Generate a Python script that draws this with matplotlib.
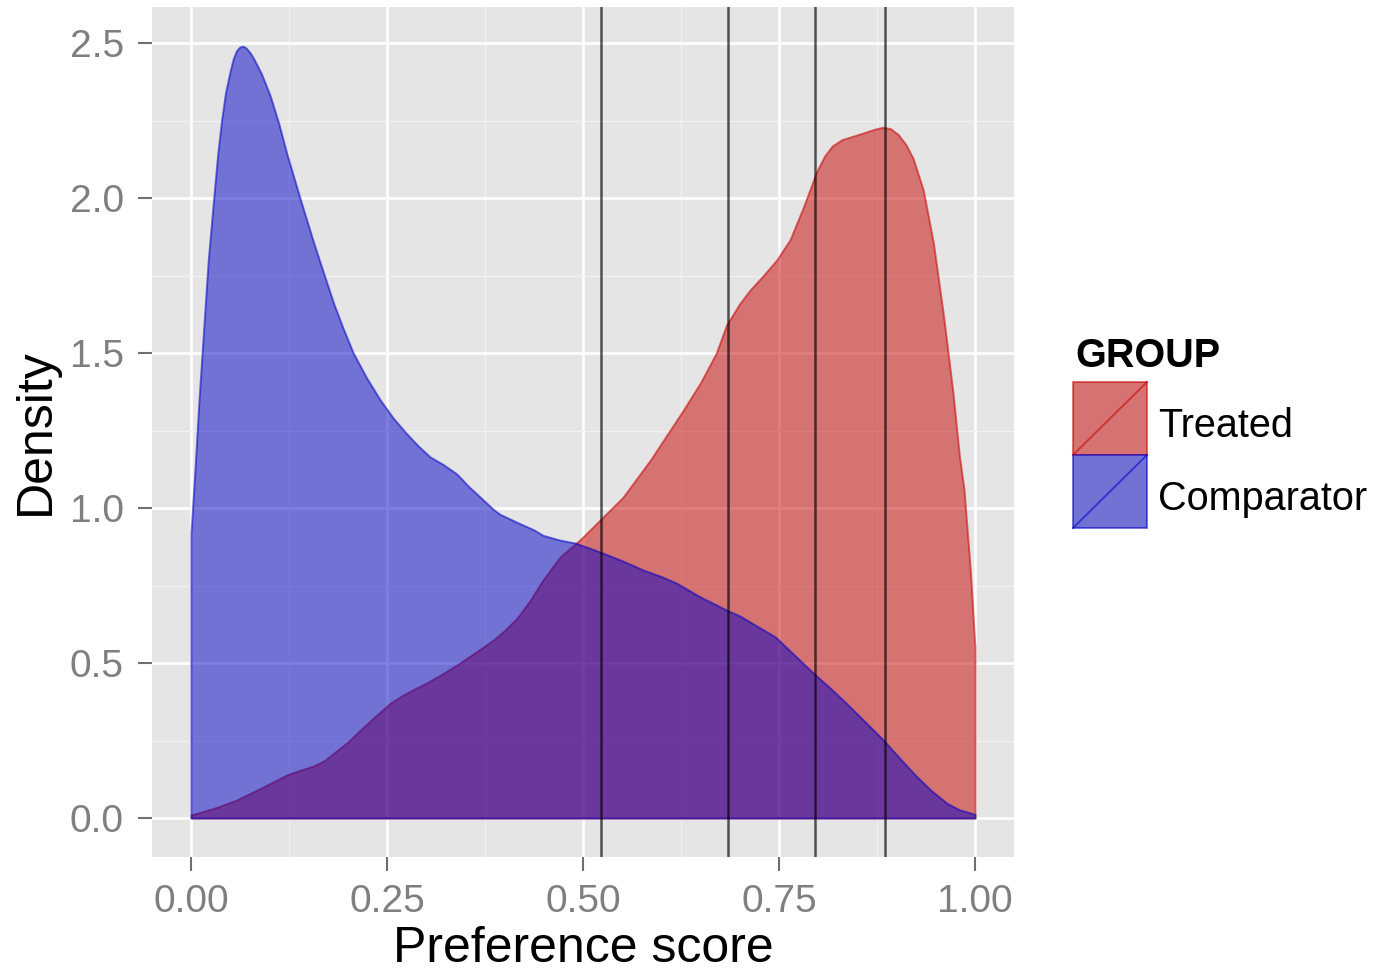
import matplotlib.pyplot as plt
from matplotlib.patches import Rectangle
from matplotlib.lines import Line2D

plt.rcParams['font.family'] = ['Liberation Sans', 'DejaVu Sans']

# Comparator density
comp_x = [0.000, 0.005, 0.010, 0.016, 0.022, 0.029, 0.034, 0.039, 0.044, 0.050,
          0.054, 0.058, 0.062, 0.066, 0.070, 0.075, 0.080, 0.090, 0.101, 0.112,
          0.122, 0.139, 0.156, 0.165, 0.182, 0.194, 0.207, 0.224, 0.241, 0.258,
          0.275, 0.290, 0.305, 0.322, 0.339, 0.354, 0.369, 0.386, 0.394, 0.415,
          0.437, 0.449, 0.470, 0.490, 0.508, 0.526, 0.550, 0.577, 0.600, 0.620,
          0.649, 0.683, 0.700, 0.720, 0.745, 0.770, 0.794, 0.815, 0.836, 0.860,
          0.883, 0.905, 0.926, 0.945, 0.964, 0.980, 1.000]
comp_y = [0.92, 1.12, 1.34, 1.57, 1.80, 2.00, 2.14, 2.25, 2.34, 2.41,
          2.45, 2.475, 2.487, 2.49, 2.485, 2.47, 2.45, 2.40, 2.33, 2.24,
          2.145, 2.00, 1.86, 1.79, 1.66, 1.58, 1.50, 1.42, 1.35, 1.29,
          1.24, 1.20, 1.165, 1.14, 1.11, 1.07, 1.035, 0.995, 0.98, 0.955,
          0.93, 0.912, 0.897, 0.887, 0.871, 0.854, 0.83, 0.80, 0.779, 0.757,
          0.714, 0.671, 0.652, 0.622, 0.585, 0.525, 0.467, 0.42, 0.37, 0.31,
          0.252, 0.19, 0.133, 0.087, 0.048, 0.027, 0.012]

# Treated density
treat_x = [0.000, 0.029, 0.058, 0.092, 0.122, 0.140, 0.156, 0.170, 0.182, 0.200,
           0.216, 0.235, 0.254, 0.270, 0.284, 0.300, 0.322, 0.343, 0.369, 0.386,
           0.400, 0.416, 0.432, 0.449, 0.471, 0.496, 0.526, 0.551, 0.586, 0.628,
           0.650, 0.670, 0.683, 0.700, 0.713, 0.730, 0.747, 0.764, 0.781, 0.798,
           0.808, 0.818, 0.830, 0.845, 0.860, 0.872, 0.882, 0.892, 0.902, 0.912,
           0.921, 0.934, 0.947, 0.960, 0.972, 0.980, 0.986, 0.994, 1.000]
treat_y = [0.01, 0.031, 0.058, 0.10, 0.139, 0.155, 0.168, 0.185, 0.209, 0.245,
           0.284, 0.328, 0.37, 0.396, 0.415, 0.435, 0.467, 0.50, 0.545, 0.575,
           0.605, 0.645, 0.70, 0.768, 0.843, 0.897, 0.972, 1.035, 1.155, 1.316,
           1.405, 1.50, 1.590, 1.66, 1.703, 1.75, 1.80, 1.865, 1.97, 2.085,
           2.135, 2.168, 2.188, 2.200, 2.212, 2.222, 2.228, 2.224, 2.205, 2.172,
           2.128, 2.026, 1.854, 1.617, 1.37, 1.17, 1.06, 0.80, 0.55]

cutoffs = [0.523, 0.685, 0.796, 0.885]

groups = ['Treated', 'Comparator']
colors = {'Treated': (0.78, 0.0, 0.0), 'Comparator': (0.0, 0.0, 0.78)}

W, H = 1381, 974
fig = plt.figure(figsize=(W / 100, H / 100), dpi=100)
ax = fig.add_axes([0.1099, 0.1205, 0.6245, 0.8718])
ax.set_facecolor('#E5E5E5')

curves = {'Treated': (treat_x, treat_y), 'Comparator': (comp_x, comp_y)}
for g in groups:
    xs, ys = curves[g]
    c = colors[g]
    ax.fill_between(xs, 0, ys, facecolor=c + (0.5,), edgecolor=c + (0.55,),
                    linewidth=1.4, zorder=2)

for v in cutoffs:
    ax.axvline(v, color='black', alpha=0.65, linewidth=1.8, zorder=3)

ax.set_xlim(-0.05, 1.05)
ax.set_ylim(-0.1245, 2.6145)
ax.set_xticks([0, 0.25, 0.5, 0.75, 1.0])
ax.set_xticklabels(['0.00', '0.25', '0.50', '0.75', '1.00'])
ax.set_yticks([0, 0.5, 1.0, 1.5, 2.0, 2.5])
ax.set_yticklabels(['0.0', '0.5', '1.0', '1.5', '2.0', '2.5'])
ax.set_xticks([0.125, 0.375, 0.625, 0.875], minor=True)
ax.set_yticks([0.25, 0.75, 1.25, 1.75, 2.25], minor=True)
ax.grid(which='major', color='white', linewidth=1.9)
ax.grid(which='minor', color='#F2F2F2', linewidth=0.9)
ax.set_axisbelow(True)
for s in ax.spines.values():
    s.set_visible(False)
ax.tick_params(which='major', length=10, width=1.5, color='#707070',
               labelcolor='#7F7F7F', labelsize=28, pad=10)
ax.tick_params(which='minor', length=0)

ax.set_xlabel('Preference score', fontsize=36, labelpad=4)
ax.set_ylabel('Density', fontsize=36, labelpad=8)


def fx(px):
    return px / W


def fy(py):
    return 1 - py / H


fig.text(fx(1075), fy(367), 'GROUP', fontsize=28.5, fontweight='bold',
         va='baseline', ha='left')
key_w, key_h = 74, 73
for i, g in enumerate(groups):
    top = 382 + key_h * i
    c = colors[g]
    fig.patches.append(Rectangle((fx(1073), fy(top + key_h)), key_w / W, key_h / H,
                                 transform=fig.transFigure, facecolor='#E5E5E5',
                                 edgecolor='none'))
    fig.patches.append(Rectangle((fx(1073), fy(top + key_h)), key_w / W, key_h / H,
                                 transform=fig.transFigure, facecolor=c + (0.5,),
                                 edgecolor=c + (0.55,), linewidth=1.4))
    fig.lines.append(Line2D([fx(1073), fx(1073 + key_w)], [fy(top + key_h), fy(top)],
                            transform=fig.transFigure, color=c + (0.55,),
                            linewidth=1.4))
    fig.text(fx(1158), fy(top + 55), g, fontsize=28.5, va='baseline', ha='left')

fig.savefig('out.png', dpi=100)
